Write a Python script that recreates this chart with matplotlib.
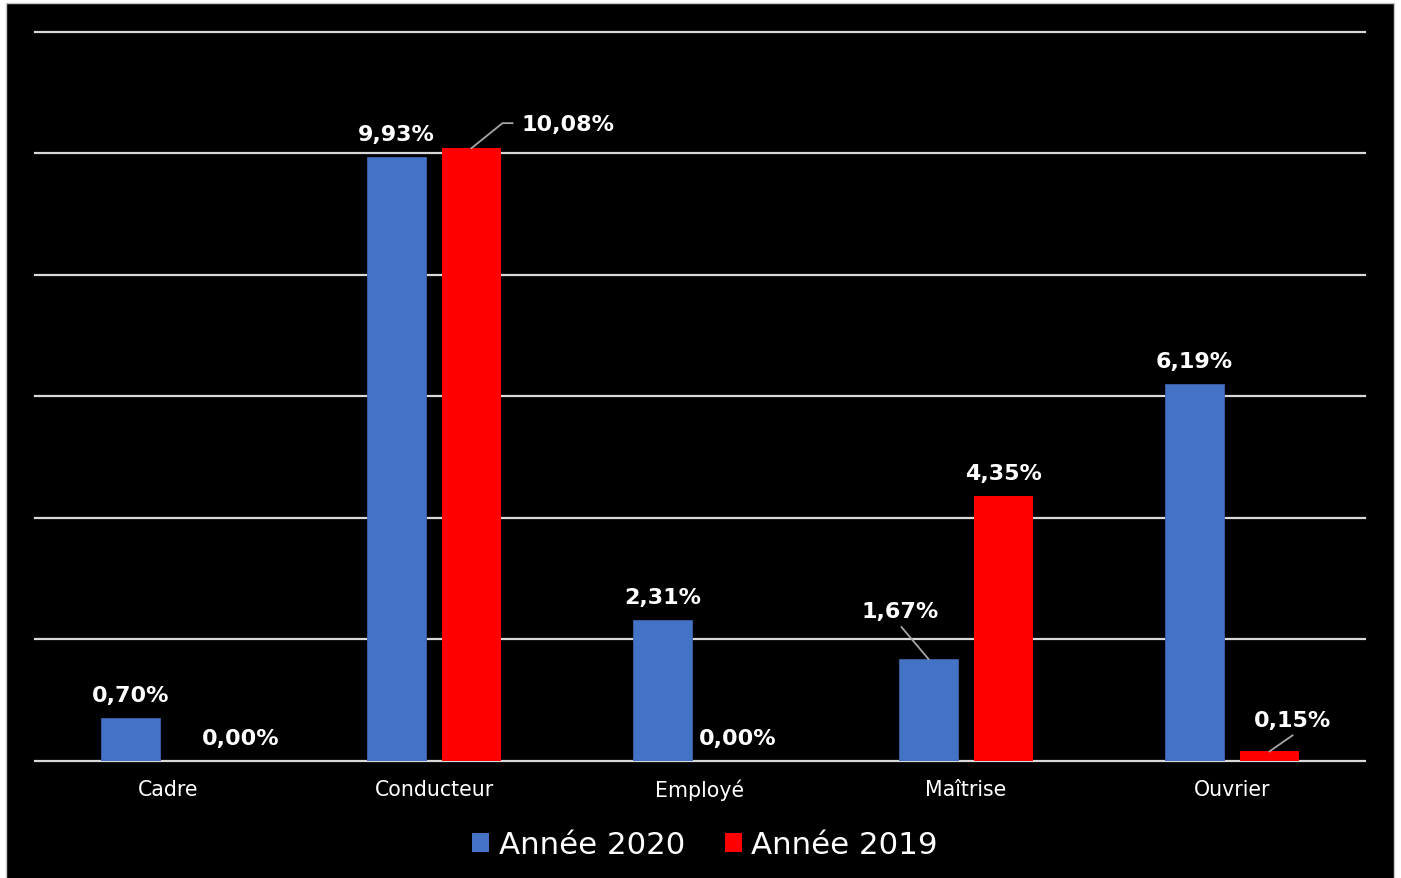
import matplotlib
matplotlib.use("Agg")
import matplotlib.pyplot as plt
from matplotlib.lines import Line2D
from matplotlib.patches import Rectangle, Patch
from matplotlib.transforms import IdentityTransform

# ── data ──────────────────────────────────────────────────────────────────────

categories = ["Cadre", "Conducteur", "Employé", "Maîtrise", "Ouvrier"]
annee_2020 = [0.70, 9.93, 2.31, 1.67, 6.19]
annee_2019 = [0.00, 10.08, 0.00, 4.35, 0.15]
series_labels = ["Année 2020", "Année 2019"]
y_ticks = [0, 2, 4, 6, 8, 10, 12]

BLUE = "#4472C4"
RED = "#FF0000"
GRID = "#d9d9d9"
LEADER = "#a6a6a6"

plt.rcParams["font.family"] = ["DejaVu Sans"]

# ── figure ────────────────────────────────────────────────────────────────────

W, H = 1401, 879
fig = plt.figure(figsize=(W / 100, H / 100), dpi=100, facecolor="white")
fig.patches.append(Rectangle((6 / W, -0.01), 1388 / W, 1.01 - 4 / H,
                             transform=fig.transFigure, facecolor="black",
                             edgecolor="#c8c8c8", linewidth=1, zorder=-10))

ax = fig.add_axes([35 / W, 1 - 761.5 / H, 1330 / W, 729 / H])
ax.set_facecolor("none")

x = list(range(len(categories)))
width = 0.222
off = 0.141
x20 = [i - off for i in x]
x19 = [i + off for i in x]

ax.bar(x20, annee_2020, width, color=BLUE, edgecolor="#3a62ab", linewidth=0.6, zorder=3)
ax.bar(x19, annee_2019, width, color=RED, linewidth=0, zorder=3)

ax.set_xlim(-0.5, len(categories) - 0.5)
ax.set_ylim(0, 12)
ax.set_yticks(y_ticks)
for t in y_ticks:
    ax.axhline(t, color=GRID, linewidth=1.6, zorder=1, clip_on=False)
ax.tick_params(axis="y", left=False, labelleft=False)
ax.set_xticks(x)
ax.set_xticklabels(categories, color="white", fontsize=14.8)
ax.tick_params(axis="x", length=0, pad=13)
for s in ax.spines.values():
    s.set_visible(False)


def fmt(v):
    return f"{v:.2f}".replace(".", ",") + "%"


def label(xv, yv, dx=0, dy=23, ha="center"):
    ax.annotate(fmt(yv), (xv, yv), xytext=(dx, dy), textcoords="offset pixels",
                ha=ha, va="center", color="white", fontsize=16,
                fontweight="bold", zorder=5)


def leader(xv, yv, pts):
    bx, by = ax.transData.transform((xv, yv))
    xs = [bx + p[0] for p in pts]
    ys = [by + p[1] for p in pts]
    fig.add_artist(Line2D(xs, ys, transform=IdentityTransform(),
                          color=LEADER, linewidth=1.3, zorder=4))


# default labels centred above bars
for xv, v in zip(x20, annee_2020):
    if v == 1.67:
        continue
    label(xv, v)

# 2019 labels, some shifted like in the original
label(x19[0], annee_2019[0], dx=35)
label(x19[1], annee_2019[1], dx=50, dy=24, ha="left")
leader(x19[1], annee_2019[1], [(0, 0), (31, 25), (41, 25)])
label(x19[2], annee_2019[2])
label(x19[3], annee_2019[3])
label(x19[4], annee_2019[4], dx=23, dy=31)
leader(x19[4], annee_2019[4], [(0, 0), (23, 16)])

# Maîtrise 2020 label pulled up-left
label(x20[3], annee_2020[3], dx=-28, dy=48)
leader(x20[3], annee_2020[3], [(0, 0), (-27, 32)])

# ── legend ────────────────────────────────────────────────────────────────────

handles = [Patch(facecolor=BLUE), Patch(facecolor=RED)]
fig.legend(handles, series_labels, loc="center", bbox_to_anchor=(705 / W, 1 - 846 / H),
           ncol=2, frameon=False, fontsize=22.2, labelcolor="white",
           handlelength=0.55, handleheight=0.55, handletextpad=0.3,
           columnspacing=1.3)

fig.savefig("out.png", dpi=100, facecolor=fig.get_facecolor())
